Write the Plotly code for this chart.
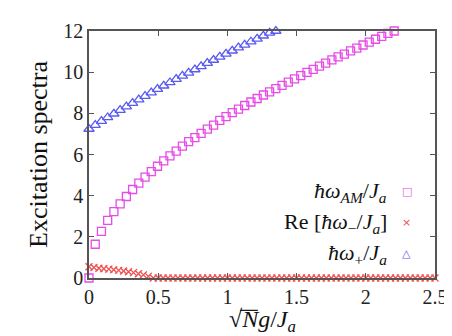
import numpy as np
import plotly.graph_objects as go

# amplitude mode, step 0.045
x_am = [round(0.045 * i, 3) for i in range(50)]
y_am = [0.00, 1.64, 2.27, 2.80, 3.22, 3.60, 3.96, 4.30, 4.61, 4.90,
        5.17, 5.43, 5.69, 5.93, 6.16, 6.41, 6.63, 6.82, 7.03, 7.23,
        7.43, 7.66, 7.84, 8.03, 8.20, 8.38, 8.55, 8.72, 8.89, 9.04,
        9.20, 9.36, 9.52, 9.67, 9.83, 9.99, 10.14, 10.29, 10.44, 10.60,
        10.74, 10.88, 11.03, 11.17, 11.32, 11.46, 11.60, 11.74, 11.88, 12.00]

# Re[omega_-], step 2.5/70
x_minus = [round(2.5 * i / 70, 4) for i in range(71)]
y_minus = [0.55, 0.51, 0.47, 0.45, 0.43, 0.40, 0.37, 0.34, 0.30, 0.26,
           0.21, 0.15, 0.08, 0.00] + [0.0] * 57

# omega_+, step 0.045
x_plus = [round(0.045 * i, 3) for i in range(31)]
y_plus = [7.24, 7.43, 7.62, 7.80, 7.98, 8.16, 8.33, 8.50, 8.67, 8.84,
          9.01, 9.18, 9.34, 9.50, 9.66, 9.82, 9.97, 10.13, 10.28, 10.44,
          10.59, 10.74, 10.89, 11.04, 11.19, 11.33, 11.48, 11.62, 11.77, 11.91,
          12.00]

x_ticks = [0, 0.5, 1, 1.5, 2, 2.5]
y_ticks = [0, 2, 4, 6, 8, 10, 12]

PINK = "#e64ce6"
RED = "#f05050"
BLUE = "#5a5af0"
AXIS = "#555555"
SERIF = "Liberation Serif"

fig = go.Figure()
fig.add_trace(go.Scatter(
    x=x_am, y=y_am, mode="markers", cliponaxis=False,
    marker=dict(symbol="square-open", size=8, color=PINK, line=dict(width=1.3)),
))
fig.add_trace(go.Scatter(
    x=x_minus, y=y_minus, mode="markers", cliponaxis=False,
    marker=dict(symbol="x-thin-open", size=7, color=RED, line=dict(width=1.3, color=RED)),
))
fig.add_trace(go.Scatter(
    x=x_plus, y=y_plus, mode="markers", cliponaxis=False,
    marker=dict(symbol="triangle-up-open", size=9, color=BLUE, line=dict(width=1.3)),
))

axis_common = dict(
    showgrid=False, zeroline=False, showline=True, linecolor=AXIS, linewidth=1.5,
    mirror="ticks", ticks="inside", ticklen=5, tickcolor=AXIS, tickwidth=1.2,
    tickfont=dict(family=SERIF, size=20, color="#222222"),
)

fig.update_xaxes(range=[0, 2.5], tickvals=x_ticks, ticktext=["0", "0.5", "1", "1.5", "2", "2.5"],
                 **axis_common)
fig.update_yaxes(range=[0, 12], tickvals=y_ticks,
                 title=dict(text="Excitation spectra", font=dict(family=SERIF, size=26, color="#111111"),
                            standoff=8),
                 **axis_common)

# x title as annotation so the root's bar can sit over N
fig.add_annotation(xref="paper", yref="paper", x=0.5, y=-0.175, xanchor="center", yanchor="middle",
                   text="√<i>N</i><i>g</i>/<i>J</i><sub><i>a</i></sub>", showarrow=False,
                   font=dict(family=SERIF, size=24, color="#111111"))
fig.add_shape(type="line", xref="paper", yref="paper", x0=0.437, x1=0.488, y0=-0.131, y1=-0.131,
              line=dict(color="#111111", width=1.2))

# legend: right-aligned labels with symbols to their right
labels = [
    ("<i>ħω</i><sub><i>AM</i></sub>/<i>J</i><sub><i>a</i></sub>", "□", PINK, 0.35),
    ("Re [<i>ħω</i><sub>−</sub>/<i>J</i><sub><i>a</i></sub>]", "×", RED, 0.224),
    ("<i>ħω</i><sub>+</sub>/<i>J</i><sub><i>a</i></sub>", "△", BLUE, 0.098),
]
for text, sym, col, yy in labels:
    fig.add_annotation(xref="paper", yref="paper", x=0.866, y=yy, xanchor="right", yanchor="middle",
                       text=text, showarrow=False, font=dict(family=SERIF, size=22, color="#111111"))
    fig.add_annotation(xref="paper", yref="paper", x=0.918, y=yy, xanchor="center", yanchor="middle",
                       text=sym, showarrow=False, font=dict(family="DejaVu Sans", size=11, color=col))

fig.update_layout(
    width=452, height=336,
    margin=dict(l=81, r=19, t=15, b=66),
    paper_bgcolor="white", plot_bgcolor="white",
    font=dict(family=SERIF, size=20, color="#222222"),
    showlegend=False,
)

fig.write_html("out.html")
